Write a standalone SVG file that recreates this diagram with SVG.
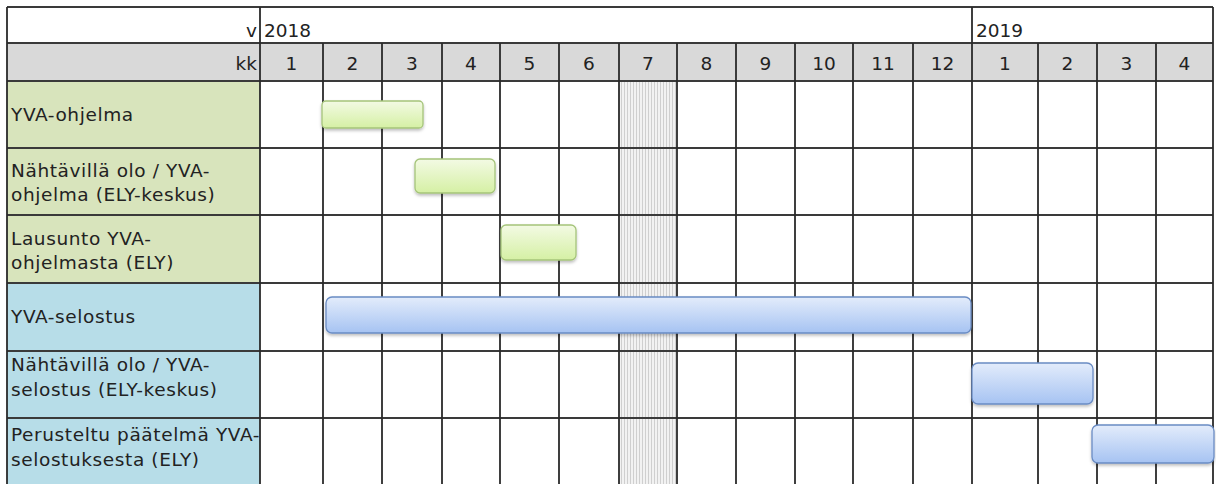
<svg xmlns="http://www.w3.org/2000/svg" width="1216" height="484" viewBox="0 0 1216 484">
<style>
  text { font-family: "DejaVu Sans", Verdana, sans-serif; font-size: 18.5px; fill: #222; }
  .lbl { letter-spacing: 0.6px; }
  .c { text-anchor: middle; }
  .r { text-anchor: end; }
  .grid { stroke: #2a2a2a; stroke-width: 1.8; fill: none; }
  .hl { stroke: #3a3a3a; stroke-width: 2; }
  .gbar { fill: url(#gGreen); stroke: #a5c47a; stroke-width: 1.3; filter: url(#sh); }
  .bbar { fill: url(#gBlue); stroke: #6a8cc4; stroke-width: 1.3; filter: url(#sh); }
</style>
<defs>
  <linearGradient id="gGreen" x1="0" y1="0" x2="0" y2="1">
    <stop offset="0" stop-color="#f3fae4"/>
    <stop offset="1" stop-color="#d5f0a4"/>
  </linearGradient>
  <linearGradient id="gBlue" x1="0" y1="0" x2="0" y2="1">
    <stop offset="0" stop-color="#e3ecfb"/>
    <stop offset="1" stop-color="#a6c3f2"/>
  </linearGradient>
  <pattern id="stripes" width="3" height="10" patternUnits="userSpaceOnUse">
    <rect width="3" height="10" fill="#f2f2f2"/>
    <rect width="1" height="10" fill="#cfcfcf"/>
  </pattern>
  <filter id="sh" x="-5%" y="-20%" width="110%" height="160%">
    <feDropShadow dx="0" dy="2" stdDeviation="1.5" flood-color="#000" flood-opacity="0.25"/>
  </filter>
</defs>

<!-- backgrounds -->
<g id="background">
  <rect x="7" y="7" width="1206" height="480" fill="#ffffff"/>
  <rect x="7" y="43" width="1206" height="38" fill="#d9d9d9"/>
  <rect x="7" y="81" width="253" height="202" fill="#d8e4bc"/>
  <rect x="7" y="283" width="253" height="204" fill="#b7dde8"/>
  <rect x="619" y="81" width="58" height="406" fill="url(#stripes)"/>
</g>

<!-- grid -->
<g id="grid">
  <line class="hl" x1="7" y1="7" x2="1213" y2="7"/>
  <line class="hl" x1="7" y1="43" x2="1213" y2="43"/>
  <line class="hl" x1="7" y1="81" x2="1213" y2="81" stroke-width="2.5"/>
  <line class="hl" x1="7" y1="148" x2="1213" y2="148"/>
  <line class="hl" x1="7" y1="215" x2="1213" y2="215"/>
  <line class="hl" x1="7" y1="283" x2="1213" y2="283"/>
  <line class="hl" x1="7" y1="351" x2="1213" y2="351"/>
  <line class="hl" x1="7" y1="418" x2="1213" y2="418"/>
  <line class="grid" x1="7" y1="7" x2="7" y2="484"/>
  <line class="grid" x1="260" y1="7" x2="260" y2="484"/>
  <line class="grid" x1="972" y1="7" x2="972" y2="484"/>
  <line class="grid" x1="1213" y1="7" x2="1213" y2="484" stroke="#666"/>
  <line class="grid" x1="323" y1="43" x2="323" y2="484"/>
  <line class="grid" x1="382" y1="43" x2="382" y2="484"/>
  <line class="grid" x1="442" y1="43" x2="442" y2="484"/>
  <line class="grid" x1="500" y1="43" x2="500" y2="484"/>
  <line class="grid" x1="559" y1="43" x2="559" y2="484"/>
  <line class="grid" x1="619" y1="43" x2="619" y2="484" stroke="#555"/>
  <line class="grid" x1="677" y1="43" x2="677" y2="484" stroke="#555"/>
  <line class="grid" x1="736" y1="43" x2="736" y2="484"/>
  <line class="grid" x1="795" y1="43" x2="795" y2="484"/>
  <line class="grid" x1="853" y1="43" x2="853" y2="484"/>
  <line class="grid" x1="913" y1="43" x2="913" y2="484"/>
  <line class="grid" x1="1038" y1="43" x2="1038" y2="484"/>
  <line class="grid" x1="1097" y1="43" x2="1097" y2="484" stroke="#555"/>
  <line class="grid" x1="1156" y1="43" x2="1156" y2="484" stroke="#555"/>
</g>

<!-- header -->
<g id="header">
  <text class="r" x="257" y="37">v</text>
  <text x="264" y="37">2018</text>
  <text x="976" y="37">2019</text>
  <text class="r" x="257" y="70">kk</text>
  <text class="c" x="291.5" y="70">1</text>
  <text class="c" x="352.5" y="70">2</text>
  <text class="c" x="412" y="70">3</text>
  <text class="c" x="471" y="70">4</text>
  <text class="c" x="529.5" y="70">5</text>
  <text class="c" x="589" y="70">6</text>
  <text class="c" x="648" y="70">7</text>
  <text class="c" x="706.5" y="70">8</text>
  <text class="c" x="765.5" y="70">9</text>
  <text class="c" x="824" y="70">10</text>
  <text class="c" x="883" y="70">11</text>
  <text class="c" x="942.5" y="70">12</text>
  <text class="c" x="1005" y="70">1</text>
  <text class="c" x="1067.5" y="70">2</text>
  <text class="c" x="1126.5" y="70">3</text>
  <text class="c" x="1184.5" y="70">4</text>
</g>

<!-- task rows -->
<g id="task1">
  <text class="lbl" x="11" y="121">YVA-ohjelma</text>
  <rect class="gbar" x="322" y="101" width="101" height="27" rx="4"/>
</g>
<g id="task2">
  <text class="lbl" x="11" y="177">Nähtävillä olo / YVA-</text>
  <text class="lbl" x="11" y="201">ohjelma (ELY-keskus)</text>
  <rect class="gbar" x="415" y="159" width="80" height="34" rx="5"/>
</g>
<g id="task3">
  <text class="lbl" x="11" y="245">Lausunto YVA-</text>
  <text class="lbl" x="11" y="269">ohjelmasta (ELY)</text>
  <rect class="gbar" x="501" y="225" width="75" height="35" rx="5"/>
</g>
<g id="task4">
  <text class="lbl" x="11" y="323">YVA-selostus</text>
  <rect class="bbar" x="326" y="297" width="645" height="36" rx="6"/>
</g>
<g id="task5">
  <text class="lbl" x="11" y="371">Nähtävillä olo / YVA-</text>
  <text class="lbl" x="11" y="396">selostus (ELY-keskus)</text>
  <rect class="bbar" x="972" y="363" width="121" height="41" rx="6"/>
</g>
<g id="task6">
  <text class="lbl" x="11" y="441">Perusteltu päätelmä YVA-</text>
  <text class="lbl" x="11" y="466">selostuksesta (ELY)</text>
  <rect class="bbar" x="1092" y="425" width="122" height="38" rx="6"/>
</g>
</svg>
